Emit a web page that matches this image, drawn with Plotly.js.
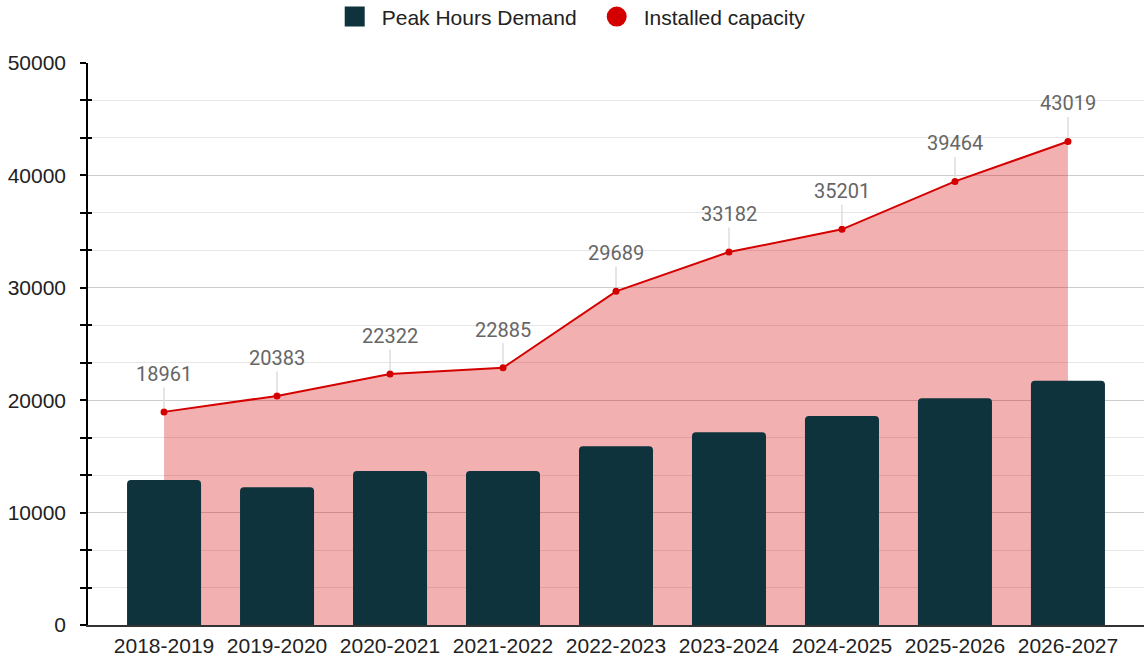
<!DOCTYPE html>
<html>
<head>
<meta charset="utf-8">
<script src="https://cdn.plot.ly/plotly-3.0.1.min.js"></script>
<style>
html,body{margin:0;padding:0;background:#fff;}
#chart{width:1145px;height:660px;}
</style>
</head>
<body>
<div id="chart"></div>
<script>
var categories = ["2018-2019","2019-2020","2020-2021","2021-2022","2022-2023","2023-2024","2024-2025","2025-2026","2026-2027"];
var peakDemand = [12900, 12250, 13700, 13700, 15900, 17150, 18600, 20180, 21720];
var installedCapacity = [18961, 20383, 22322, 22885, 29689, 33182, 35201, 39464, 43019];
var yTickVals = [0, 10000, 20000, 30000, 40000, 50000];
var yTickText = ["0", "10000", "20000", "30000", "40000", "50000"];

var barColor = "#0e333c";
var lineColor = "#d40000";

var traces = [
  {
    type: "scatter",
    mode: "lines+markers",
    x: categories,
    y: installedCapacity,
    xaxis: "x",
    yaxis: "y",
    fill: "tozeroy",
    fillcolor: "rgba(213,0,4,0.31)",
    line: {color: lineColor, width: 2},
    marker: {color: lineColor, size: 7},
    showlegend: false,
    hoverinfo: "x+y"
  },
  {
    type: "bar",
    x: categories,
    y: peakDemand,
    xaxis: "x",
    yaxis: "y2",
    marker: {color: barColor, cornerradius: 4},
    showlegend: false,
    hoverinfo: "x+y"
  },
  {
    type: "scatter",
    mode: "markers",
    x: [null],
    y: [null],
    name: "Peak Hours Demand",
    marker: {symbol: "square", color: barColor, size: 16, line: {color: barColor, width: 4}},
    showlegend: true
  },
  {
    type: "scatter",
    mode: "markers",
    x: [null],
    y: [null],
    name: "Installed capacity",
    marker: {symbol: "circle", color: lineColor, size: 16, line: {color: lineColor, width: 4}},
    showlegend: true
  }
];

var annotations = categories.map(function (c, i) {
  return {
    x: c,
    y: installedCapacity[i],
    xref: "x",
    yref: "y",
    text: String(installedCapacity[i]),
    showarrow: true,
    arrowhead: 0,
    arrowwidth: 1.5,
    arrowcolor: "#dddddd",
    standoff: 4,
    ax: 0,
    ay: -38,
    font: {family: "Roboto, sans-serif", size: 20, color: "#666666"}
  };
});

var minorStep = 10000 / 3;

var layout = {
  width: 1145,
  height: 660,
  margin: {l: 88, r: 1, t: 63, b: 35, pad: 0, autoexpand: false},
  paper_bgcolor: "#ffffff",
  plot_bgcolor: "#ffffff",
  font: {family: "Liberation Sans, Arial, sans-serif", color: "#222222", size: 21},
  showlegend: true,
  legend: {
    orientation: "h",
    x: 0.227,
    xanchor: "left",
    y: 1.082,
    yanchor: "middle",
    itemwidth: 44,
    entrywidth: 203,
    font: {family: "Liberation Sans, Arial, sans-serif", size: 21, color: "#222222"},
    bgcolor: "rgba(0,0,0,0)",
    itemclick: false
  },
  bargap: 0.345,
  xaxis: {
    type: "category",
    range: [-0.673, 8.673],
    showgrid: false,
    showline: true,
    linecolor: "#333333",
    linewidth: 1.5,
    ticks: "",
    ticklabelstandoff: 1,
    tickfont: {family: "Liberation Sans, Arial, sans-serif", size: 21, color: "#222222"},
    zeroline: false,
    fixedrange: true
  },
  yaxis: {
    range: [0, 50000],
    tickmode: "array",
    tickvals: yTickVals,
    ticktext: yTickText,
    showgrid: true,
    gridcolor: "#cccccc",
    gridwidth: 1,
    showline: true,
    linecolor: "#000000",
    linewidth: 1.5,
    ticks: "",
    ticklabelstandoff: 16,
    tickfont: {family: "Liberation Sans, Arial, sans-serif", size: 21, color: "#222222"},
    zeroline: false,
    minor: {
      dtick: minorStep,
      tick0: 0,
      showgrid: true,
      gridcolor: "#e6e6e6",
      gridwidth: 1,
      ticks: "outside",
      ticklen: 6,
      tickcolor: "#000000",
      tickwidth: 1.5
    },
    fixedrange: true
  },
  yaxis2: {
    range: [0, 50000],
    overlaying: "y",
    side: "left",
    showticklabels: false,
    showgrid: false,
    showline: false,
    zeroline: false,
    ticks: "",
    minor: {
      dtick: minorStep,
      tick0: 0,
      showgrid: false,
      ticks: "inside",
      ticklen: 4,
      tickcolor: "#000000",
      tickwidth: 1.5
    },
    fixedrange: true
  },
  annotations: annotations
};

Plotly.newPlot("chart", traces, layout, {displayModeBar: false, staticPlot: false});
</script>
</body>
</html>
